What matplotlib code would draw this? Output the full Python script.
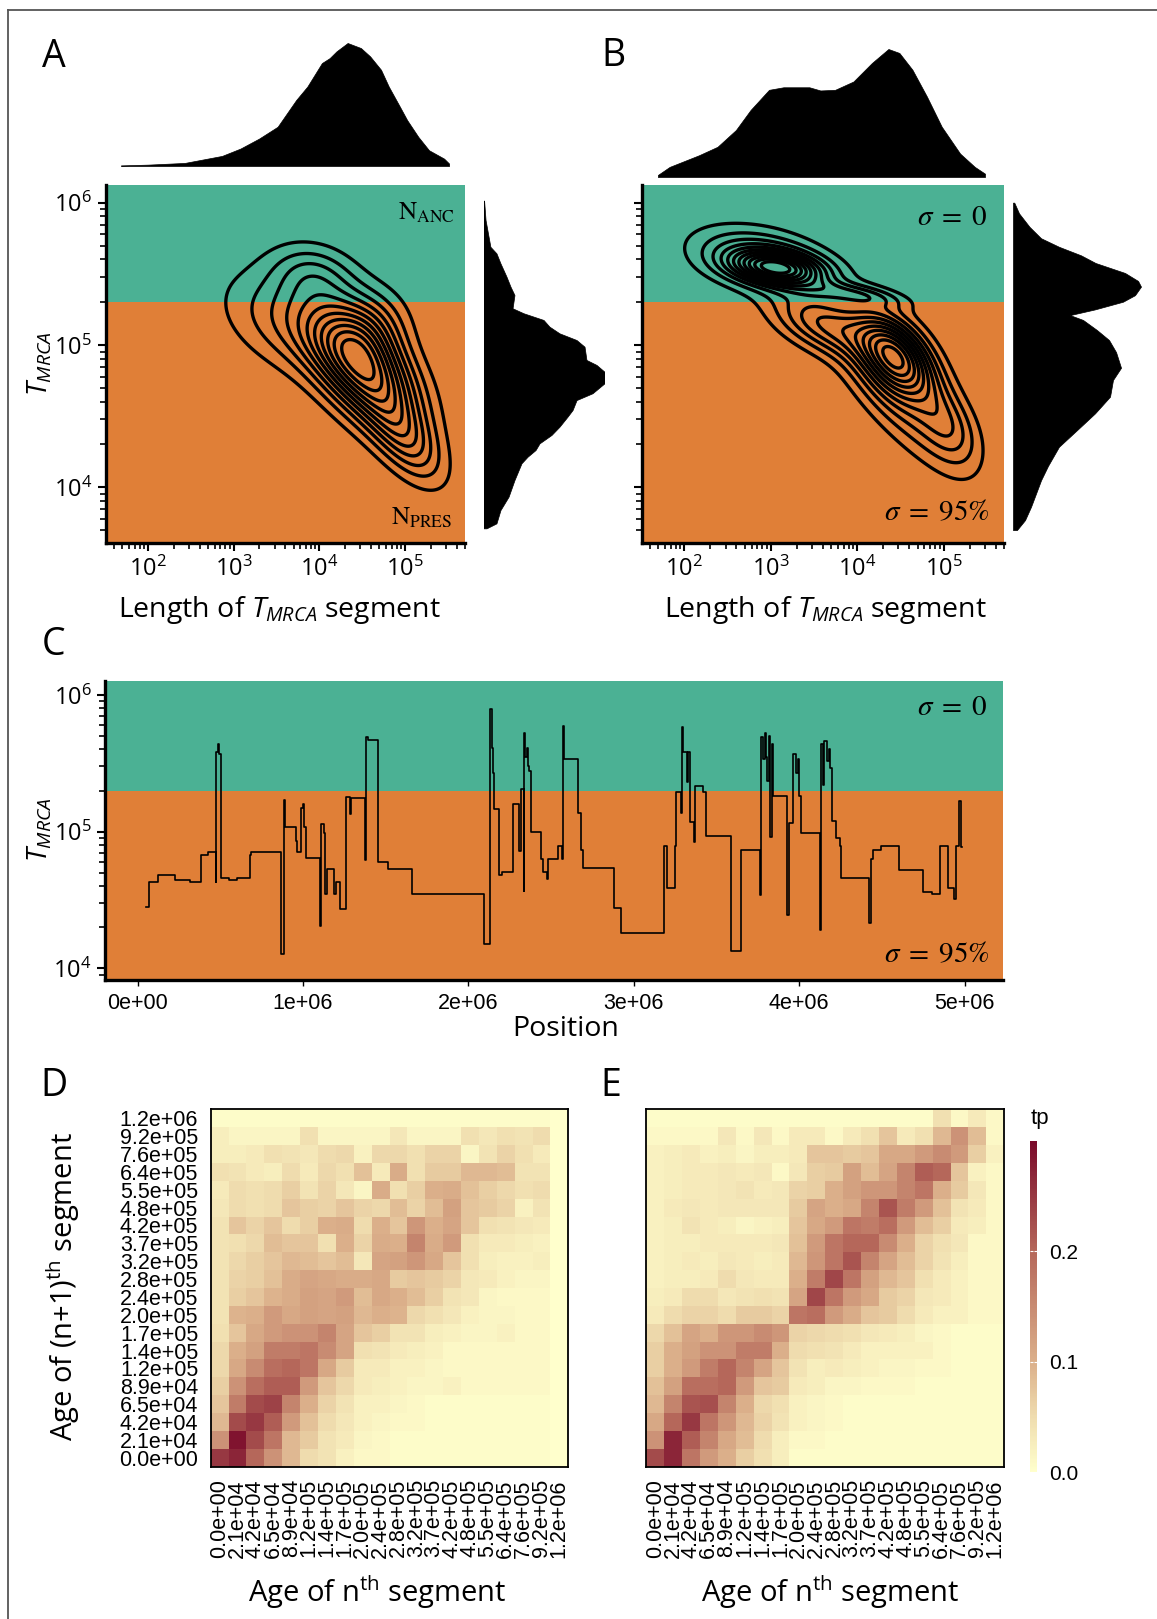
import numpy as np
import matplotlib
matplotlib.use('Agg')
import matplotlib.pyplot as plt
from matplotlib.colors import LinearSegmentedColormap
from matplotlib.lines import Line2D
from matplotlib.ticker import LogLocator, NullFormatter, FixedLocator

W, H = 1157, 1619
TEAL = '#4BB194'
ORANGE = '#E07F37'
T_SPLIT = 2e5

plt.rcParams['font.family'] = ['Open Sans', 'DejaVu Sans']
plt.rcParams['mathtext.fontset'] = 'custom'
plt.rcParams['mathtext.rm'] = 'Open Sans'
plt.rcParams['mathtext.it'] = 'Open Sans:italic'

# ---------------- data ----------------
# marginal densities (log10 value, relative height)
a_len_log = [1.685, 2.0, 2.43, 2.864, 3.08, 3.297, 3.513, 3.73, 3.86, 4.03, 4.12, 4.20,
             4.33, 4.485, 4.593, 4.72, 4.81, 4.94, 5.025, 5.155, 5.28, 5.456, 5.514]
a_len_dens = [0.005, 0.011, 0.025, 0.082, 0.142, 0.223, 0.319, 0.537, 0.646, 0.837, 0.877, 0.932,
              1.0, 0.959, 0.891, 0.782, 0.646, 0.482, 0.373, 0.237, 0.128, 0.060, 0.02]
a_t_log = [6.014, 5.878, 5.69, 5.644, 5.574, 5.48, 5.41, 5.351, 5.258, 5.223, 5.176, 5.129,
           5.082, 5.035, 4.988, 4.895, 4.86, 4.812, 4.731, 4.661, 4.613, 4.543, 4.496, 4.426,
           4.368, 4.309, 4.262, 4.215, 4.169, 4.051, 3.934, 3.84, 3.747, 3.712]
a_t_dens = [0.005, 0.017, 0.057, 0.107, 0.14, 0.19, 0.223, 0.256, 0.24, 0.331, 0.496, 0.545,
            0.628, 0.769, 0.835, 0.851, 0.934, 1.0, 1.0, 0.901, 0.769, 0.736, 0.694, 0.628,
            0.562, 0.463, 0.43, 0.364, 0.314, 0.256, 0.207, 0.14, 0.107, 0.025]
b_len_log = [1.694, 1.83, 2.17, 2.384, 2.597, 2.767, 2.98, 3.148, 3.447, 3.575, 3.745, 3.957,
             4.17, 4.362, 4.489, 4.64, 4.808, 4.979, 5.192, 5.362, 5.48]
b_len_dens = [0.016, 0.079, 0.17, 0.236, 0.367, 0.524, 0.681, 0.701, 0.701, 0.676, 0.681, 0.746,
              0.89, 1.0, 0.969, 0.838, 0.628, 0.393, 0.183, 0.079, 0.026]
b_t_log = [6.0, 5.925, 5.83, 5.75, 5.69, 5.63, 5.576, 5.506, 5.45, 5.41, 5.35, 5.304, 5.25,
           5.21, 5.176, 5.105, 5.035, 4.95, 4.84, 4.754, 4.637, 4.52, 4.402, 4.285, 4.15,
           4.05, 3.864, 3.77, 3.70]
b_t_dens = [0.01, 0.047, 0.129, 0.219, 0.359, 0.531, 0.645, 0.875, 0.977, 1.0, 0.953, 0.859,
            0.64, 0.445, 0.547, 0.656, 0.75, 0.805, 0.844, 0.781, 0.758, 0.641, 0.5, 0.359,
            0.273, 0.219, 0.141, 0.094, 0.031]

# 2D density: (log10 length, log10 T, sd length, sd T, rho, weight)
a_kde_parts = [(4.50, 4.85, 0.42, 0.28, -0.55, 1.0),
               (3.70, 5.15, 0.55, 0.25, -0.4, 0.35),
               (3.95, 5.50, 0.35, 0.15, -0.2, 0.13),
               (5.00, 4.35, 0.30, 0.22, -0.6, 0.20),
               (4.60, 5.15, 0.30, 0.18, 0.0, 0.13)]
b_kde_parts = [(3.08, 5.54, 0.35, 0.08, -0.3, 0.20),
               (2.90, 5.60, 0.52, 0.15, -0.35, 0.29),
               (3.95, 5.36, 0.40, 0.06, -0.6, 0.05),
               (3.60, 5.15, 0.40, 0.15, -0.5, 0.21),
               (4.45, 4.92, 0.30, 0.20, -0.5, 0.50),
               (4.40, 4.65, 0.50, 0.35, -0.82, 0.25),
               (5.05, 4.45, 0.25, 0.20, -0.5, 0.13)]

# panel C: step changes of T_MRCA along the sequence (position in Mb)
c_pos_mb = [0.051, 0.067, 0.123, 0.225, 0.319, 0.386, 0.426, 0.471, 0.475, 0.484, 0.491, 0.502,
            0.554, 0.598, 0.679, 0.688, 0.866, 0.882, 0.888, 0.955, 0.962, 0.989, 0.998, 1.004,
            1.016, 1.100, 1.107, 1.127, 1.134, 1.145, 1.190, 1.201, 1.223, 1.257, 1.283, 1.290,
            1.375, 1.379, 1.391, 1.451, 1.513, 1.658, 2.094, 2.132, 2.141, 2.147, 2.154, 2.183,
            2.205, 2.272, 2.306, 2.315, 2.333, 2.337, 2.344, 2.353, 2.362, 2.368, 2.377, 2.440,
            2.451, 2.473, 2.480, 2.540, 2.567, 2.571, 2.578, 2.660, 2.683, 2.694, 2.878, 2.920,
            3.182, 3.200, 3.251, 3.257, 3.287, 3.292, 3.300, 3.322, 3.329, 3.338, 3.361, 3.368,
            3.418, 3.434, 3.586, 3.648, 3.761, 3.768, 3.779, 3.791, 3.798, 3.807, 3.816, 3.825,
            3.834, 3.844, 3.929, 3.936, 3.963, 3.982, 3.993, 4.000, 4.009, 4.124, 4.133, 4.142,
            4.152, 4.166, 4.179, 4.189, 4.200, 4.223, 4.246, 4.251, 4.423, 4.434, 4.446, 4.492,
            4.602, 4.747, 4.805, 4.851, 4.901, 4.936, 4.947, 4.963, 4.978, 4.982]
c_tmrca = [2.8e4, 4.3e4, 4.8e4, 4.4e4, 4.3e4, 6.7e4, 7.1e4, 4.3e4, 3.8e5, 4.4e5, 3.7e5, 4.6e4,
           4.4e4, 4.6e4, 6.7e4, 7.1e4, 1.27e4, 1.7e5, 1.09e5, 8.6e4, 7.1e4, 1.5e5, 1.6e5, 1.08e5,
           6.4e4, 2.05e4, 1.14e5, 9.7e4, 3.5e4, 5.3e4, 3.5e4, 4.3e4, 2.7e4, 1.78e5, 1.35e5, 1.75e5,
           6.2e4, 4.9e5, 4.7e5, 6.0e4, 5.3e4, 3.5e4, 1.5e4, 7.9e5, 4.1e5, 2.7e5, 1.46e5, 4.8e4,
           5.1e4, 1.6e5, 7.2e4, 2.05e5, 3.7e4, 5.3e5, 3.5e5, 4.1e5, 3.0e5, 2.8e5, 9.9e4, 6.3e4,
           5.1e4, 4.5e4, 6.3e4, 7.8e4, 6.3e4, 5.9e5, 3.4e5, 1.36e5, 7.3e4, 5.4e4, 2.76e4, 1.82e4,
           7.8e4, 3.9e4, 7.8e4, 1.94e5, 1.36e5, 5.8e5, 3.8e5, 2.3e5, 3.8e5, 1.17e5, 8.4e4, 2.15e5,
           1.94e5, 9.3e4, 1.33e4, 7.3e4, 3.46e4, 4.9e5, 3.4e5, 5.3e5, 3.5e5, 2.36e5, 5.0e5, 9.2e4,
           4.4e5, 1.83e5, 2.47e4, 1.15e5, 3.7e5, 2.7e5, 3.4e5, 1.83e5, 9.8e4, 1.89e4, 4.4e5, 2.2e5,
           4.6e5, 3.3e5, 4.0e5, 2.9e5, 1.2e5, 9.0e4, 7.9e4, 4.6e4, 2.13e4, 6.3e4, 7.4e4, 7.9e4,
           5.25e4, 3.64e4, 3.5e4, 7.9e4, 3.9e4, 3.2e4, 7.9e4, 1.69e5, 7.7e4, 7.7e4]
c_xticks = [0, 1e6, 2e6, 3e6, 4e6, 5e6]
c_xlabels = ['0e+00', '1e+06', '2e+06', '3e+06', '4e+06', '5e+06']

# panels D/E: transition probabilities, rows = age of (n+1)th segment (bottom to top)
ages = ['0.0e+00', '2.1e+04', '4.2e+04', '6.5e+04', '8.9e+04', '1.2e+05', '1.4e+05',
        '1.7e+05', '2.0e+05', '2.4e+05', '2.8e+05', '3.2e+05', '3.7e+05', '4.2e+05',
        '4.8e+05', '5.5e+05', '6.4e+05', '7.6e+05', '9.2e+05', '1.2e+06']
tp_d = [
    [0.25, 0.27, 0.20, 0.14, 0.09, 0.05, 0.04, 0.02, 0.01, 0.01, 0.005, 0.005, 0.005, 0.005, 0.005, 0.005, 0.005, 0.005, 0.005, 0.0],
    [0.14, 0.29, 0.23, 0.18, 0.09, 0.07, 0.04, 0.03, 0.015, 0.01, 0.005, 0.005, 0.005, 0.005, 0.005, 0.005, 0.005, 0.005, 0.005, 0.0],
    [0.09, 0.23, 0.25, 0.21, 0.13, 0.08, 0.05, 0.035, 0.02, 0.015, 0.01, 0.01, 0.005, 0.005, 0.005, 0.005, 0.005, 0.005, 0.005, 0.0],
    [0.075, 0.17, 0.23, 0.24, 0.16, 0.10, 0.06, 0.04, 0.02, 0.02, 0.015, 0.01, 0.005, 0.005, 0.005, 0.005, 0.005, 0.005, 0.005, 0.0],
    [0.065, 0.14, 0.19, 0.21, 0.21, 0.13, 0.075, 0.055, 0.03, 0.025, 0.02, 0.015, 0.015, 0.02, 0.01, 0.01, 0.01, 0.01, 0.01, 0.0],
    [0.055, 0.11, 0.15, 0.19, 0.20, 0.18, 0.11, 0.07, 0.03, 0.03, 0.02, 0.02, 0.015, 0.01, 0.01, 0.01, 0.01, 0.01, 0.01, 0.0],
    [0.055, 0.10, 0.12, 0.17, 0.17, 0.18, 0.15, 0.115, 0.045, 0.04, 0.03, 0.025, 0.02, 0.01, 0.01, 0.01, 0.01, 0.01, 0.01, 0.0],
    [0.045, 0.075, 0.11, 0.13, 0.14, 0.14, 0.16, 0.115, 0.075, 0.065, 0.04, 0.04, 0.025, 0.02, 0.015, 0.015, 0.02, 0.01, 0.01, 0.0],
    [0.04, 0.095, 0.10, 0.13, 0.11, 0.12, 0.115, 0.12, 0.09, 0.10, 0.095, 0.055, 0.045, 0.035, 0.02, 0.015, 0.015, 0.01, 0.01, 0.0],
    [0.04, 0.065, 0.075, 0.095, 0.105, 0.12, 0.115, 0.13, 0.085, 0.11, 0.10, 0.085, 0.065, 0.04, 0.035, 0.015, 0.01, 0.01, 0.01, 0.0],
    [0.04, 0.06, 0.065, 0.08, 0.105, 0.115, 0.11, 0.105, 0.105, 0.11, 0.07, 0.075, 0.07, 0.06, 0.035, 0.03, 0.02, 0.015, 0.015, 0.0],
    [0.04, 0.055, 0.065, 0.075, 0.09, 0.085, 0.075, 0.085, 0.035, 0.115, 0.12, 0.135, 0.11, 0.075, 0.045, 0.025, 0.02, 0.02, 0.025, 0.0],
    [0.04, 0.045, 0.055, 0.085, 0.075, 0.075, 0.045, 0.10, 0.06, 0.105, 0.10, 0.16, 0.105, 0.13, 0.045, 0.03, 0.03, 0.025, 0.02, 0.0],
    [0.04, 0.075, 0.06, 0.075, 0.05, 0.065, 0.10, 0.105, 0.05, 0.10, 0.075, 0.135, 0.10, 0.115, 0.075, 0.045, 0.04, 0.035, 0.03, 0.0],
    [0.035, 0.05, 0.045, 0.05, 0.075, 0.065, 0.06, 0.075, 0.06, 0.055, 0.085, 0.06, 0.085, 0.12, 0.075, 0.07, 0.06, 0.02, 0.04, 0.0],
    [0.03, 0.05, 0.045, 0.05, 0.065, 0.04, 0.06, 0.035, 0.015, 0.105, 0.045, 0.065, 0.10, 0.105, 0.08, 0.065, 0.055, 0.045, 0.05, 0.0],
    [0.045, 0.04, 0.03, 0.025, 0.05, 0.03, 0.055, 0.045, 0.08, 0.03, 0.105, 0.045, 0.07, 0.07, 0.09, 0.09, 0.085, 0.04, 0.04, 0.0],
    [0.025, 0.025, 0.03, 0.045, 0.04, 0.035, 0.05, 0.055, 0.02, 0.055, 0.055, 0.045, 0.06, 0.06, 0.015, 0.04, 0.06, 0.045, 0.03, 0.0],
    [0.025, 0.015, 0.015, 0.015, 0.015, 0.045, 0.015, 0.015, 0.015, 0.015, 0.035, 0.015, 0.015, 0.015, 0.045, 0.035, 0.045, 0.04, 0.05, 0.0],
    [0.005, 0.005, 0.005, 0.005, 0.005, 0.005, 0.005, 0.005, 0.005, 0.005, 0.005, 0.005, 0.005, 0.005, 0.005, 0.005, 0.005, 0.005, 0.005, 0.0],
]
tp_e = [
    [0.23, 0.27, 0.18, 0.13, 0.10, 0.065, 0.045, 0.025, 0.005, 0.005, 0.005, 0.005, 0.005, 0.005, 0.005, 0.005, 0.005, 0.005, 0.005, 0.005],
    [0.14, 0.27, 0.21, 0.16, 0.11, 0.085, 0.05, 0.025, 0.01, 0.01, 0.005, 0.005, 0.005, 0.005, 0.005, 0.005, 0.005, 0.005, 0.005, 0.005],
    [0.11, 0.20, 0.25, 0.18, 0.135, 0.09, 0.06, 0.04, 0.02, 0.015, 0.01, 0.005, 0.005, 0.005, 0.005, 0.005, 0.005, 0.005, 0.005, 0.005],
    [0.09, 0.16, 0.22, 0.225, 0.16, 0.10, 0.055, 0.045, 0.02, 0.015, 0.01, 0.005, 0.005, 0.005, 0.005, 0.005, 0.005, 0.005, 0.005, 0.005],
    [0.08, 0.12, 0.19, 0.19, 0.20, 0.13, 0.075, 0.07, 0.03, 0.025, 0.015, 0.015, 0.01, 0.01, 0.01, 0.005, 0.005, 0.005, 0.005, 0.005],
    [0.065, 0.10, 0.13, 0.17, 0.20, 0.16, 0.115, 0.075, 0.04, 0.025, 0.03, 0.025, 0.02, 0.015, 0.015, 0.01, 0.01, 0.005, 0.005, 0.005],
    [0.065, 0.10, 0.12, 0.14, 0.14, 0.17, 0.17, 0.10, 0.05, 0.045, 0.04, 0.03, 0.02, 0.02, 0.02, 0.02, 0.01, 0.005, 0.005, 0.005],
    [0.055, 0.08, 0.115, 0.10, 0.135, 0.135, 0.15, 0.135, 0.06, 0.055, 0.05, 0.045, 0.035, 0.03, 0.025, 0.015, 0.01, 0.005, 0.005, 0.005],
    [0.03, 0.05, 0.06, 0.06, 0.05, 0.07, 0.07, 0.06, 0.18, 0.19, 0.13, 0.105, 0.075, 0.07, 0.05, 0.03, 0.02, 0.02, 0.01, 0.01],
    [0.025, 0.03, 0.05, 0.05, 0.035, 0.04, 0.045, 0.04, 0.115, 0.235, 0.18, 0.13, 0.11, 0.07, 0.06, 0.035, 0.03, 0.02, 0.01, 0.01],
    [0.02, 0.025, 0.025, 0.03, 0.05, 0.035, 0.03, 0.03, 0.10, 0.17, 0.235, 0.18, 0.12, 0.09, 0.075, 0.045, 0.03, 0.02, 0.01, 0.01],
    [0.02, 0.025, 0.03, 0.025, 0.035, 0.03, 0.025, 0.03, 0.09, 0.135, 0.18, 0.22, 0.16, 0.115, 0.085, 0.06, 0.04, 0.025, 0.01, 0.01],
    [0.02, 0.025, 0.025, 0.03, 0.03, 0.03, 0.03, 0.035, 0.08, 0.13, 0.18, 0.20, 0.20, 0.15, 0.10, 0.06, 0.045, 0.035, 0.01, 0.01],
    [0.02, 0.025, 0.04, 0.03, 0.025, 0.015, 0.02, 0.025, 0.075, 0.11, 0.13, 0.18, 0.17, 0.19, 0.13, 0.085, 0.065, 0.03, 0.025, 0.01],
    [0.02, 0.03, 0.035, 0.03, 0.035, 0.035, 0.035, 0.035, 0.07, 0.115, 0.10, 0.11, 0.16, 0.22, 0.17, 0.13, 0.08, 0.04, 0.03, 0.01],
    [0.02, 0.025, 0.03, 0.03, 0.035, 0.04, 0.03, 0.035, 0.06, 0.065, 0.10, 0.12, 0.135, 0.135, 0.16, 0.18, 0.10, 0.07, 0.035, 0.01],
    [0.02, 0.025, 0.03, 0.03, 0.035, 0.03, 0.035, 0.01, 0.035, 0.065, 0.07, 0.12, 0.085, 0.115, 0.16, 0.21, 0.20, 0.075, 0.02, 0.01],
    [0.02, 0.025, 0.03, 0.02, 0.025, 0.015, 0.025, 0.025, 0.03, 0.075, 0.075, 0.07, 0.075, 0.11, 0.11, 0.13, 0.15, 0.13, 0.065, 0.02],
    [0.01, 0.01, 0.01, 0.01, 0.035, 0.01, 0.035, 0.01, 0.03, 0.03, 0.01, 0.03, 0.045, 0.075, 0.03, 0.045, 0.09, 0.14, 0.085, 0.01],
    [0.005, 0.005, 0.005, 0.005, 0.005, 0.005, 0.005, 0.005, 0.005, 0.005, 0.005, 0.005, 0.005, 0.005, 0.005, 0.005, 0.045, 0.01, 0.03, 0.01],
]

# ---------------- layout helpers ----------------
fig = plt.figure(figsize=(W / 100, H / 100), dpi=100)


def box(l, t, r, b):
    return [l / W, 1 - b / H, (r - l) / W, (b - t) / H]


def ftext(x, y, s, **kw):
    return fig.text(x / W, 1 - y / H, s, **kw)


def mixture(parts, gl, gt):
    z = np.zeros_like(gl)
    for ml, mt, sl, st, rho, w in parts:
        dl = (gl - ml) / sl
        dt = (gt - mt) / st
        q = (dl * dl - 2 * rho * dl * dt + dt * dt) / (1 - rho * rho)
        z += w * np.exp(-0.5 * q) / (sl * st * np.sqrt(1 - rho * rho))
    return z


# figure frame (top and left only)
fig.add_artist(Line2D([8 / W, 1], [1 - 10 / H, 1 - 10 / H], transform=fig.transFigure, color='#555555', lw=1.3))
fig.add_artist(Line2D([8 / W, 8 / W], [0, 1 - 10 / H], transform=fig.transFigure, color='#555555', lw=1.3))

XLIM_L = (10 ** 1.51, 10 ** 5.70)
YLIM_T = (10 ** 3.609, 10 ** 6.124)
gl = np.linspace(1.4, 5.8, 320)
gt = np.linspace(3.5, 6.2, 320)
GL, GT = np.meshgrid(gl, gt)


def log_axes_style(ax, show_ylabels):
    ax.set_xscale('log')
    ax.set_yscale('log')
    ax.set_xlim(XLIM_L)
    ax.set_ylim(YLIM_T)
    for s in ['top', 'right']:
        ax.spines[s].set_visible(False)
    for s in ['left', 'bottom']:
        ax.spines[s].set_linewidth(2.4)
    ax.xaxis.set_major_locator(FixedLocator([1e2, 1e3, 1e4, 1e5]))
    ax.xaxis.set_minor_locator(LogLocator(base=10, subs=np.arange(2, 10)))
    ax.xaxis.set_minor_formatter(NullFormatter())
    ax.yaxis.set_major_locator(FixedLocator([1e4, 1e5, 1e6]))
    ax.yaxis.set_minor_locator(LogLocator(base=10, subs=np.arange(2, 10)))
    ax.yaxis.set_minor_formatter(NullFormatter())
    ax.tick_params(which='major', length=6, width=1.5, labelsize=17, pad=4)
    ax.tick_params(which='minor', length=4, width=1.2)
    if not show_ylabels:
        ax.yaxis.set_major_formatter(NullFormatter())


def kde_panel(rect, top_rect, right_rect, parts, len_log, len_dens, t_log, t_dens, show_ylabels):
    ax = fig.add_axes(box(*rect))
    ax.axhspan(YLIM_T[0], T_SPLIT, color=ORANGE, lw=0, zorder=0)
    ax.axhspan(T_SPLIT, YLIM_T[1], color=TEAL, lw=0, zorder=0)
    z = mixture(parts, GL, GT)
    lev = z.max() * np.arange(1, 12) / 12.0
    ax.contour(10 ** GL, 10 ** GT, z, levels=lev, colors='black', linewidths=2.4, zorder=2)
    log_axes_style(ax, show_ylabels)

    axt = fig.add_axes(box(*top_rect))
    axt.fill_between(10 ** np.array(len_log), len_dens, color='black', lw=0.5)
    axt.set_xscale('log')
    axt.set_xlim(XLIM_L)
    axt.set_ylim(0, 1.0)
    axt.axis('off')

    axr = fig.add_axes(box(*right_rect))
    axr.fill_betweenx(10 ** np.array(t_log), 0, t_dens, color='black', lw=0.5)
    axr.set_yscale('log')
    axr.set_ylim(YLIM_T)
    axr.set_xlim(0, 1.0)
    axr.axis('off')
    return ax


# ---------------- panel A ----------------
kde_panel((106, 185, 465, 543), (106, 43, 465, 166), (483.5, 185, 604.5, 543),
          a_kde_parts, a_len_log, a_len_dens, a_t_log, a_t_dens, True)
# ---------------- panel B ----------------
kde_panel((642, 185, 1004, 543), (642, 49, 1004, 177), (1013, 185, 1141, 543),
          b_kde_parts, b_len_log, b_len_dens, b_t_log, b_t_dens, False)

ftext(455, 200, r'$\mathrm{N_{ANC}}$', ha='right', va='top', fontsize=18, math_fontfamily='stix')
ftext(452, 530, r'$\mathrm{N_{PRES}}$', ha='right', va='bottom', fontsize=18, math_fontfamily='stix')
ftext(987, 203, r'$\sigma\;=\;0$', ha='right', va='top', fontsize=21, math_fontfamily='stix')
ftext(990, 527, r'$\sigma\;=\;95\%$', ha='right', va='bottom', fontsize=21, math_fontfamily='stix')

ftext(279, 610, r'Length of $T_{MRCA}$ segment', ha='center', va='center', fontsize=20.5)
ftext(825, 610, r'Length of $T_{MRCA}$ segment', ha='center', va='center', fontsize=20.5)
ftext(40, 364, r'$T_{MRCA}$', ha='center', va='center', rotation=90, fontsize=20)

# ---------------- panel C ----------------
axc = fig.add_axes(box(105.4, 680.7, 1003, 980))
c_ylim = (10 ** 3.914, 10 ** 6.105)
axc.axhspan(c_ylim[0], T_SPLIT, color=ORANGE, lw=0, zorder=0)
axc.axhspan(T_SPLIT, c_ylim[1], color=TEAL, lw=0, zorder=0)
axc.step(np.array(c_pos_mb) * 1e6, c_tmrca, where='post', color='black', lw=1.2, zorder=2)
axc.set_yscale('log')
axc.set_ylim(c_ylim)
axc.set_xlim(-0.195e6, 5.232e6)
for s in ['top', 'right']:
    axc.spines[s].set_visible(False)
for s in ['left', 'bottom']:
    axc.spines[s].set_linewidth(2.4)
axc.set_xticks(c_xticks)
axc.set_xticklabels(c_xlabels, family='Liberation Sans', fontsize=15.5)
axc.yaxis.set_major_locator(FixedLocator([1e4, 1e5, 1e6]))
axc.yaxis.set_minor_locator(LogLocator(base=10, subs=np.arange(2, 10)))
axc.yaxis.set_minor_formatter(NullFormatter())
axc.tick_params(axis='y', which='major', length=6, width=1.5, labelsize=17, pad=4)
axc.tick_params(axis='y', which='minor', length=4, width=1.2)
axc.tick_params(axis='x', length=4, width=1.0, pad=5)
ftext(987, 693, r'$\sigma\;=\;0$', ha='right', va='top', fontsize=21, math_fontfamily='stix')
ftext(990, 969, r'$\sigma\;=\;95\%$', ha='right', va='bottom', fontsize=21, math_fontfamily='stix')
ftext(40, 830, r'$T_{MRCA}$', ha='center', va='center', rotation=90, fontsize=20)
ftext(566, 1029, 'Position', ha='center', va='center', fontsize=20.5)

# ---------------- panels D / E ----------------
cmap = LinearSegmentedColormap.from_list(
    'tp', [(0.0, '#FFFFCC'), (0.167, '#EFDCAE'), (0.333, '#DBAF8A'), (0.667, '#B5675A'), (1.0, '#7A0A2A')])


def heat_panel(rect, mat, show_y):
    ax = fig.add_axes(box(*rect))
    mesh = ax.pcolormesh(np.arange(21), np.arange(21), np.array(mat), cmap=cmap, vmin=0, vmax=0.30)
    ax.set_xlim(0, 20)
    ax.set_ylim(0, 20)
    ax.set_xticks(np.arange(20) + 0.5)
    ax.set_xticklabels(ages, rotation=90, family='Liberation Sans', fontsize=15.5)
    ax.set_yticks(np.arange(20) + 0.5)
    if show_y:
        ax.set_yticklabels(ages, family='Liberation Sans', fontsize=15.5)
    else:
        ax.set_yticklabels([])
    ax.tick_params(length=0, pad=9)
    for s in ax.spines.values():
        s.set_linewidth(1.3)
    return mesh


heat_panel((210.7, 1109.3, 568.3, 1466.7), tp_d, True)
mesh = heat_panel((646.2, 1109.3, 1004.3, 1466.7), tp_e, False)

cax = fig.add_axes(box(1030, 1141, 1037, 1472))
cb = fig.colorbar(mesh, cax=cax)
cb.outline.set_visible(False)
cb.set_ticks([0.0, 0.1, 0.2])
cb.set_ticklabels(['0.0', '0.1', '0.2'])
cax.tick_params(direction='in', color='white', length=2, width=0.8, left=True, right=True,
                labelsize=15, pad=9)
for lab in cax.get_yticklabels():
    lab.set_family('Liberation Sans')
ftext(1040, 1118, 'tp', ha='center', va='center', fontsize=16, family='Liberation Sans')

ftext(377, 1592, r'Age of n$^{\mathrm{th}}$ segment', ha='center', va='center', fontsize=21)
ftext(830, 1592, r'Age of n$^{\mathrm{th}}$ segment', ha='center', va='center', fontsize=21)
ftext(63, 1287, r'Age of (n+1)$^{\mathrm{th}}$ segment', ha='center', va='center', rotation=90, fontsize=21)

# panel letters
for letter, (x, y) in zip('ABCDE', [(54, 57), (613, 56), (54, 645), (54, 1086), (611, 1086)]):
    ftext(x, y, letter, ha='center', va='center', fontsize=27)

fig.savefig('out.png', dpi=100)
